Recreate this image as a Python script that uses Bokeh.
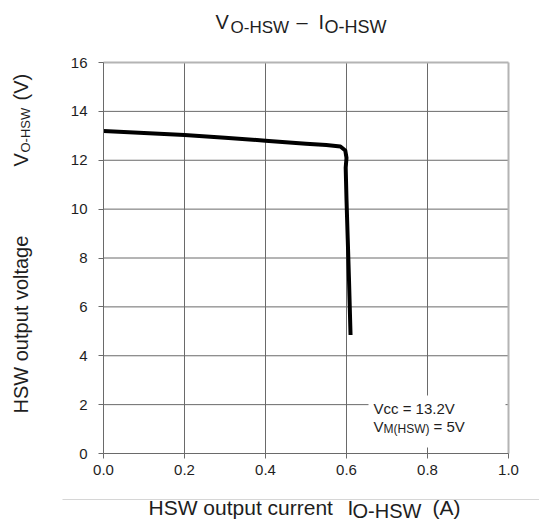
import math
from bokeh.plotting import figure
from bokeh.models import Label, FixedTicker, BoxAnnotation, Range1d, NumeralTickFormatter
from bokeh.embed import file_html
from bokeh.resources import INLINE

# ---- data ----
current_a = [0.0, 0.1, 0.2, 0.3, 0.4, 0.5, 0.55, 0.585, 0.597, 0.600, 0.598, 0.600, 0.603, 0.606, 0.610]
voltage_v = [13.2, 13.12, 13.03, 12.92, 12.8, 12.68, 12.62, 12.56, 12.4, 12.1, 11.7, 10.4, 8.8, 7.2, 4.85]

x_ticks = [0.0, 0.2, 0.4, 0.6, 0.8, 1.0]
y_ticks = [0, 2, 4, 6, 8, 10, 12, 14, 16]

title_main = "V"
title_sub = "O-HSW"
title_dash = "–"
title_i = "I"
y_label_text = "HSW output voltage"
x_label_text = "HSW output current"
cond_line1 = "Vcc = 13.2V"
cond_v = "V"
cond_sub = "M(HSW)"
cond_rest = "= 5V"

FONT = "Liberation Sans"
GRID = "#6a6a6a"
EDGE = "#b4b4b4"
TXT = "#1e1e1e"

# ---- layout (pixels) ----
W, H = 539, 523
PL, PR, PT, PB = 103, 508, 62, 453   # plot area edges in canvas pixels
x0, x1 = x_ticks[0], x_ticks[-1]
y0, y1 = y_ticks[0], y_ticks[-1]
sx = (x1 - x0) / (PR - PL)
sy = (y1 - y0) / (PB - PT)

p = figure(width=W, height=H,
           min_border_left=0, min_border_right=0, min_border_top=0, min_border_bottom=0,
           x_range=Range1d(x0 - PL * sx, x1 + (W - PR) * sx),
           y_range=Range1d(y0 - (H - PB) * sy, y1 + PT * sy),
           output_backend="svg", toolbar_location=None)
p.background_fill_color = "white"
p.border_fill_color = "white"
p.outline_line_color = None
p.grid.visible = False

for ax in (p.xaxis[0], p.yaxis[0]):
    ax.fixed_location = 0
    ax.axis_line_color = GRID
    ax.major_tick_line_color = GRID
    ax.minor_tick_line_color = None
    ax.major_tick_in = 0
    ax.major_tick_out = 5
    ax.major_label_text_font = FONT
    ax.major_label_text_font_size = "15px"
    ax.major_label_text_color = TXT

p.xaxis[0].bounds = (x0, x1)
p.yaxis[0].bounds = (y0, y1)
p.xaxis[0].ticker = FixedTicker(ticks=x_ticks)
p.yaxis[0].ticker = FixedTicker(ticks=y_ticks)
p.xaxis[0].formatter = NumeralTickFormatter(format="0.0")
p.xaxis[0].major_label_standoff = 6
p.yaxis[0].major_label_standoff = 11

# grid lines (inner) and light plot-area edges
xin = x_ticks[1:-1]
yin = y_ticks[1:-1]
p.segment(x0=xin, y0=[y0] * len(xin), x1=xin, y1=[y1] * len(xin), line_color=GRID, line_width=1)
p.segment(x0=[x0] * len(yin), y0=yin, x1=[x1] * len(yin), y1=yin, line_color=GRID, line_width=1)
p.segment(x0=[x0, x1], y0=[y1, y0], x1=[x1, x1], y1=[y1, y1], line_color=EDGE, line_width=2)

p.line(current_a, voltage_v, line_color="black", line_width=4, line_join="round")

# white box behind the conditions text
p.add_layout(BoxAnnotation(left=368, right=505, top=H - 395, bottom=H - 447,
                           left_units="screen", right_units="screen",
                           top_units="screen", bottom_units="screen",
                           fill_color="white", fill_alpha=1.0, line_color=None))

# faint rule above the x label
p.add_layout(BoxAnnotation(left=62, right=W, top=H - 498.5, bottom=H - 499.5,
                           left_units="screen", right_units="screen",
                           top_units="screen", bottom_units="screen",
                           fill_color="#d6d6d6", fill_alpha=1.0, line_color=None))


def lab(text, px, py, size, rotated=False, color=TXT):
    """px, py: start of the text on its baseline (canvas pixels)."""
    shift = 0.35 * size  # baseline -> middle of em box
    if rotated:
        x, y, ang = px - shift, H - py, math.pi / 2
    else:
        x, y, ang = px, H - (py - shift), 0.0
    p.add_layout(Label(text=text, x=x, y=y, x_units="screen", y_units="screen",
                       angle=ang, text_align="left", text_baseline="middle",
                       text_font=FONT, text_font_size=f"{size}px", text_color=color))

# title
lab(title_main, 215, 28, 20)
lab(title_sub, 230, 33, 17)
lab(title_dash, 296, 28, 20)
lab(title_i, 318, 28, 20)
lab(title_sub, 324, 33, 18)

# y label (rotated)
lab(y_label_text, 27, 413, 20, True)
lab("V", 27, 166, 20, True)
lab("O-HSW", 30, 152, 13, True)
lab("(V)", 27, 100, 20, True)

# x label
lab(x_label_text, 148, 514, 21)
lab("I", 347, 514, 21)
lab("O-HSW", 352, 517, 20)
lab("(A)", 432, 514, 21)

# conditions
lab(cond_line1, 373, 413, 15)
lab(cond_v, 373, 431, 15)
lab(cond_sub, 383, 433, 12)
lab(cond_rest, 433, 431, 15)

open("out.html", "w").write(file_html(p, INLINE))
